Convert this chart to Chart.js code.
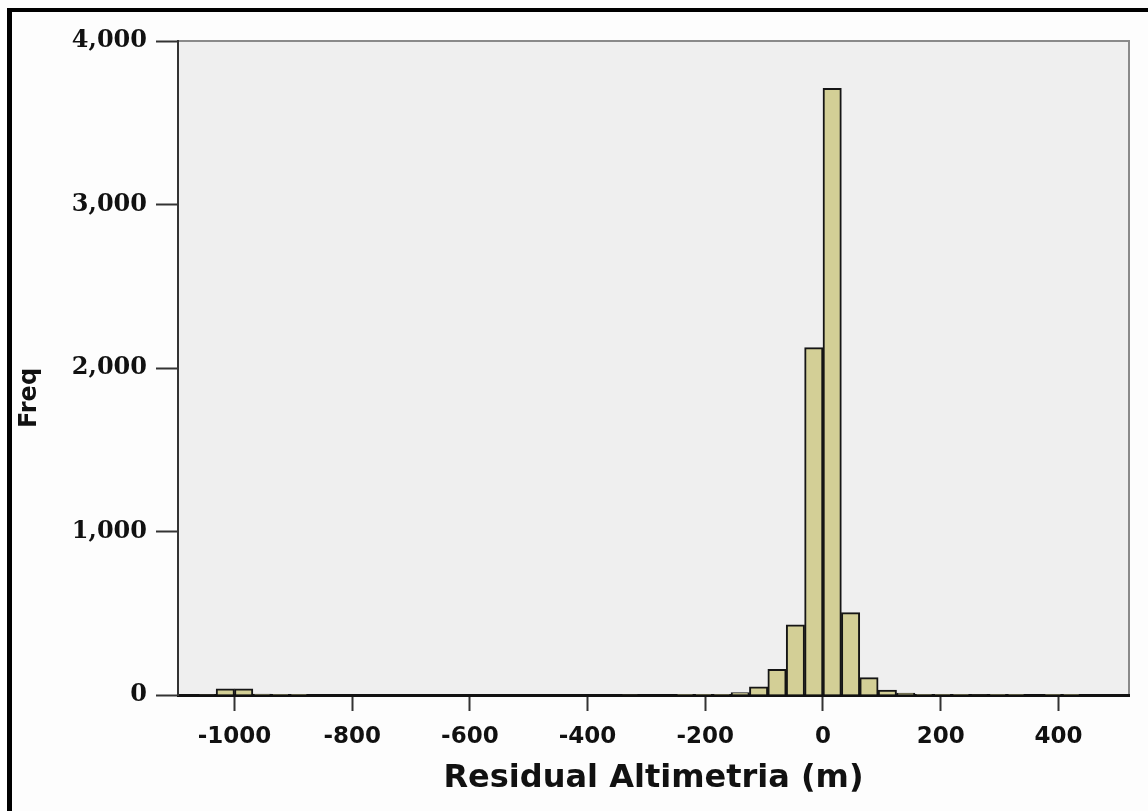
<!DOCTYPE html>
<html>
<head>
<meta charset="utf-8">
<script src="https://cdn.jsdelivr.net/npm/chart.js@4.4.1/dist/chart.umd.min.js"></script>
<style>
    html, body { margin: 0; padding: 0; background: #fdfdfd; overflow: hidden; }
    #frame {
        position: absolute; left: 7px; top: 8px; width: 1200px; height: 900px;
        border-top: 4px solid #000; border-left: 5px solid #000;
    }
    #chart { position: absolute; left: 0; top: 0; }
</style>
</head>
<body>
<div id="frame"></div>
<canvas id="chart" width="1148" height="811"></canvas>
<script>
    'use strict';

    // histogram bins: lower edge of the first bin and the bin width (m)
    var binStart = -1093.75;
    var binWidth = 31.25;

    // frequency per bin, from binStart upwards
    var frequencies = [
        0, 3, 37, 37, 5, 2, 2, 0, 0, 0,      // -1093.75 .. -781.25
        0, 0, 0, 0, 0, 0, 0, 0, 0, 0,        // -781.25 .. -468.75
        0, 0, 0, 0, 3, 0, 0, 2, 2, 4,        // -468.75 .. -156.25
        15, 50, 157, 429, 2125, 3710, 504, 106, 30, 12, // -156.25 .. 156.25
        4, 2, 2, 3, 2, 2, 0, 2, 2, 0         // 156.25 .. 468.75
    ];

    var xTickValues = [-1000, -800, -600, -400, -200, 0, 200, 400];
    var yTickValues = [0, 1000, 2000, 3000, 4000];

    var xLabel = 'Residual Altimetria (m)';
    var yLabel = 'Freq';

    var buildPoints = function () {
        return frequencies.map(function (count, i) {
            return { x: binStart + (i + 0.5) * binWidth, y: count };
        });
    };

    var plotBackground = {
        id: 'plotBackground',
        beforeDraw: function (chart) {
            var ctx = chart.ctx;
            var area = chart.chartArea;
            ctx.save();
            ctx.fillStyle = '#efefef';
            ctx.fillRect(area.left, area.top, area.right - area.left, area.bottom - area.top);
            ctx.strokeStyle = '#8a8a8a';
            ctx.lineWidth = 2;
            ctx.beginPath();
            ctx.moveTo(area.left, area.top);
            ctx.lineTo(area.right, area.top);
            ctx.lineTo(area.right, area.bottom);
            ctx.stroke();
            ctx.restore();
        }
    };

    // the y title sits a little below the middle of the axis in the original
    var yTitle = {
        id: 'yTitle',
        afterDraw: function (chart) {
            var ctx = chart.ctx;
            ctx.save();
            ctx.translate(30, 398);
            ctx.rotate(-Math.PI / 2);
            ctx.font = 'bold 24px "DejaVu Sans"';
            ctx.fillStyle = '#111';
            ctx.textAlign = 'center';
            ctx.textBaseline = 'middle';
            ctx.fillText(yLabel, 0, 0);
            ctx.restore();
        }
    };

    var context = document.getElementById('chart');
    var chart = new Chart(context, {
        type: 'bar',
        data: {
            datasets: [{
                data: buildPoints(),
                backgroundColor: '#d3cf96',
                borderColor: '#151515',
                borderWidth: 2,
                barPercentage: 1,
                categoryPercentage: 1
            }]
        },
        options: {
            responsive: false,
            animation: false,
            devicePixelRatio: 1,
            layout: { padding: { left: 0, top: 41, right: 19, bottom: 0 } },
            plugins: {
                legend: { display: false },
                tooltip: { enabled: false }
            },
            scales: {
                x: {
                    type: 'linear',
                    min: -1096,
                    max: 520,
                    offset: false,
                    afterFit: function (scale) { scale.height = 116; },
                    afterBuildTicks: function (scale) {
                        scale.ticks = xTickValues.map(function (v) { return { value: v }; });
                    },
                    grid: {
                        drawOnChartArea: false,
                        offset: false,
                        tickLength: 16,
                        tickWidth: 2,
                        tickColor: '#333'
                    },
                    border: { color: '#111', width: 3 },
                    ticks: {
                        autoSkip: false,
                        maxRotation: 0,
                        padding: 12,
                        color: '#111',
                        font: { family: 'DejaVu Sans', size: 23, weight: 'bold' },
                        callback: function (value) { return String(value); }
                    },
                    title: {
                        display: true,
                        text: xLabel,
                        color: '#111',
                        padding: { top: 0, bottom: 13 },
                        font: { family: 'DejaVu Sans', size: 32, weight: 'bold' }
                    }
                },
                y: {
                    type: 'linear',
                    min: 0,
                    max: 4000,
                    afterFit: function (scale) { scale.width = 178; },
                    afterBuildTicks: function (scale) {
                        scale.ticks = yTickValues.map(function (v) { return { value: v }; });
                    },
                    grid: {
                        drawOnChartArea: false,
                        tickLength: 22,
                        tickWidth: 2,
                        tickColor: '#333'
                    },
                    border: { color: '#333', width: 2 },
                    ticks: {
                        padding: 9,
                        color: '#111',
                        font: { family: 'DejaVu Serif', size: 24, weight: 'bold' },
                        callback: function (value) { return value.toLocaleString('en-US'); }
                    }
                }
            }
        },
        plugins: [plotBackground, yTitle]
    });
</script>
</body>
</html>
